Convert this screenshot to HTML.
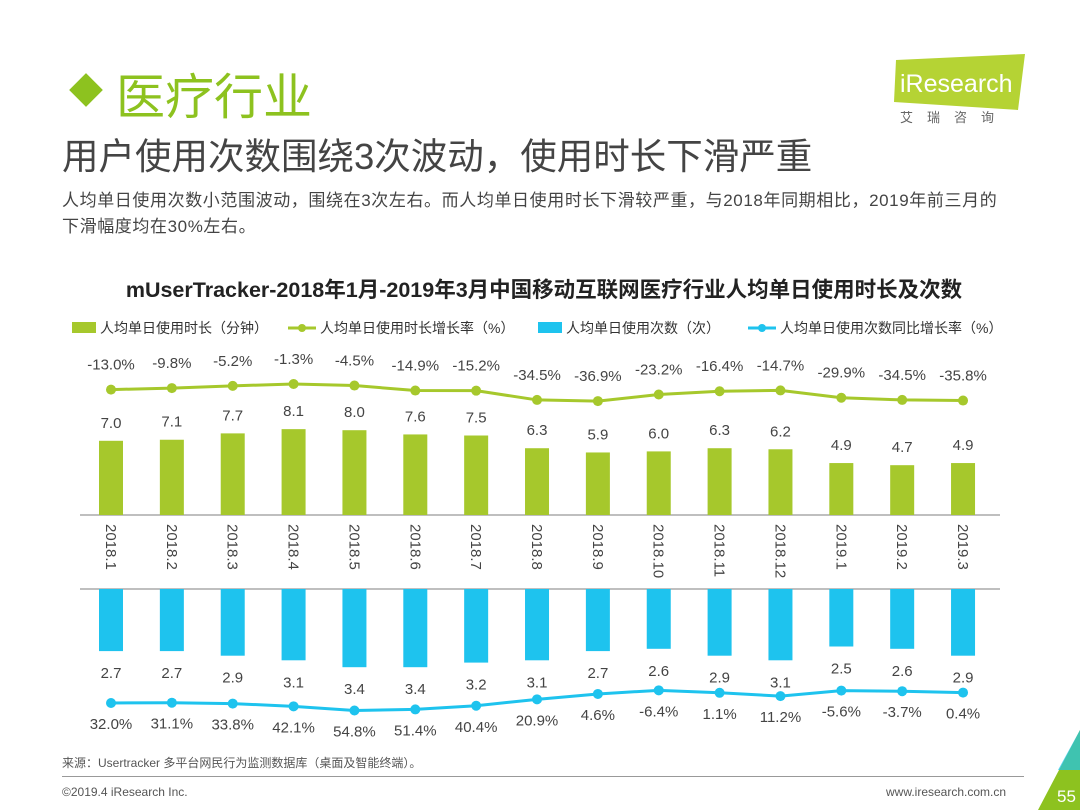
<!DOCTYPE html>
<html><head><meta charset="utf-8">
<style>
body{margin:0;width:1080px;height:810px;background:#fff;overflow:hidden;font-family:"Liberation Sans","Noto Sans CJK SC",sans-serif;position:relative}
.a{position:absolute;white-space:nowrap}
</style></head><body>
<div class="a" style="left:72px;top:76px;width:28px;height:28px;background:#8dc21f;transform:rotate(45deg) scale(0.85)"></div>
<div class="a" style="left:116px;top:58px;font-size:49px;color:#8dc21f">医疗行业</div>
<div class="a" style="left:62px;top:127px;font-size:36.5px;color:#444">用户使用次数围绕3次波动，使用时长下滑严重</div>
<div class="a" style="left:62px;top:188px;font-size:17px;letter-spacing:0.6px;color:#444;line-height:26px">人均单日使用次数小范围波动，围绕在3次左右。而人均单日使用时长下滑较严重，与2018年同期相比，2019年前三月的<br>下滑幅度均在30%左右。</div>
<svg class="a" style="left:890px;top:52px" width="140" height="80">
<polygon points="6,8 135,2 128,58 4,50" fill="#b5d334"/>
<text x="10" y="40" font-size="25" fill="#fff" font-family="Liberation Sans">iResearch</text>
<text x="10" y="70" font-size="13" fill="#666" letter-spacing="14">艾瑞咨询</text>
</svg>
<div class="a" style="left:0;width:1088px;text-align:center;top:273px;font-size:21.5px;font-weight:bold;color:#222">mUserTracker-2018年1月-2019年3月中国移动互联网医疗行业人均单日使用时长及次数</div>
<svg class="a" style="left:0;top:0" width="1080" height="810" id="chart">
<g font-size="14" fill="#333">
<rect x="72" y="322" width="24" height="11" fill="#a6c82c"/><text x="100" y="333">人均单日使用时长（分钟）</text>
<line x1="288" y1="328" x2="316" y2="328" stroke="#a6c82c" stroke-width="3"/><circle cx="302" cy="328" r="4" fill="#a6c82c"/><text x="320" y="333">人均单日使用时长增长率（%）</text>
<rect x="538" y="322" width="24" height="11" fill="#1ec3ee"/><text x="566" y="333">人均单日使用次数（次）</text>
<line x1="748" y1="328" x2="776" y2="328" stroke="#1ec3ee" stroke-width="3"/><circle cx="762" cy="328" r="4" fill="#1ec3ee"/><text x="780" y="333">人均单日使用次数同比增长率（%）</text>
</g>
<line x1="80" y1="515" x2="1000" y2="515" stroke="#aaa" stroke-width="1.5"/>
<line x1="80" y1="589" x2="1000" y2="589" stroke="#aaa" stroke-width="1.5"/>
<g id="g"></g>
</svg>
<div class="a" style="left:62px;top:754px;font-size:12px;color:#555">来源：Usertracker 多平台网民行为监测数据库（桌面及智能终端）。</div>
<div class="a" style="left:62px;top:776px;width:962px;height:1px;background:#999"></div>
<div class="a" style="left:62px;top:785px;font-size:12px;color:#555">©2019.4 iResearch Inc.</div>
<div class="a" style="left:886px;top:785px;font-size:12px;color:#555">www.iresearch.com.cn</div>
<svg class="a" style="left:1030px;top:730px" width="50" height="80"><polygon points="50,0 50,80 8,80" fill="#8dc21f"/><polygon points="50,0 50,40 28,40" fill="#1ec3ee" opacity="0.7"/><text x="27" y="72" font-size="17" fill="#fff">55</text></svg>
<script>
const cats=["2018.1","2018.2","2018.3","2018.4","2018.5","2018.6","2018.7","2018.8","2018.9","2018.10","2018.11","2018.12","2019.1","2019.2","2019.3"];
const durValues=[7.0,7.1,7.7,8.1,8.0,7.6,7.5,6.3,5.9,6.0,6.3,6.2,4.9,4.7,4.9];
const durGrowth=[-13.0,-9.8,-5.2,-1.3,-4.5,-14.9,-15.2,-34.5,-36.9,-23.2,-16.4,-14.7,-29.9,-34.5,-35.8];
const cntValues=[2.7,2.7,2.9,3.1,3.4,3.4,3.2,3.1,2.7,2.6,2.9,3.1,2.5,2.6,2.9];
const cntGrowth=[32.0,31.1,33.8,42.1,54.8,51.4,40.4,20.9,4.6,-6.4,1.1,11.2,-5.6,-3.7,0.4];
const NS='http://www.w3.org/2000/svg',g=document.getElementById('g');
const x=i=>111+i*60.86;
const yDur=v=>515-v*10.6;
const yDG=v=>384+(-1.3-v)*0.48;
const yCnt=v=>589+v*23;
const yCG=v=>703+(v-32)*0.33;
function mk(t,a,txt){const e=document.createElementNS(NS,t);for(const k in a)e.setAttribute(k,a[k]);if(txt!=null)e.textContent=txt;g.appendChild(e);return e;}
cats.forEach((c,i)=>{
 let e=mk('rect',{x:x(i)-12,y:yDur(durValues[i]),width:24,height:515-yDur(durValues[i]),fill:'#a6c82c'});
 
 e=mk('text',{x:x(i),y:yDur(durValues[i])-13,'text-anchor':'middle','font-size':15,fill:'#444'},durValues[i].toFixed(1));
 
 e=mk('rect',{x:x(i)-12,y:589,width:24,height:yCnt(cntValues[i])-589,fill:'#1ec3ee'});
 
 e=mk('text',{x:x(i),y:yCnt(cntValues[i])+27,'text-anchor':'middle','font-size':15,fill:'#444'},cntValues[i].toFixed(1));
 
 e=mk('text',{x:0,y:0,transform:`translate(${x(i)-5},524) rotate(90)`,'font-size':15,fill:'#444'},c);
 
 e=mk('text',{x:x(i),y:yDG(durGrowth[i])-20,'text-anchor':'middle','font-size':15,fill:'#444'},durGrowth[i].toFixed(1)+'%');
 
 e=mk('text',{x:x(i),y:yCG(cntGrowth[i])+26,'text-anchor':'middle','font-size':15,fill:'#444'},cntGrowth[i].toFixed(1)+'%');
 
});
let p=mk('polyline',{points:durGrowth.map((v,i)=>x(i)+','+yDG(v)).join(' '),fill:'none',stroke:'#a6c82c','stroke-width':3});

p=mk('polyline',{points:cntGrowth.map((v,i)=>x(i)+','+yCG(v)).join(' '),fill:'none',stroke:'#1ec3ee','stroke-width':3});

durGrowth.forEach((v,i)=>{const c=mk('circle',{cx:x(i),cy:yDG(v),r:5,fill:'#a6c82c'});
});
cntGrowth.forEach((v,i)=>{const c=mk('circle',{cx:x(i),cy:yCG(v),r:5,fill:'#1ec3ee'});
});
</script>
</body></html>
